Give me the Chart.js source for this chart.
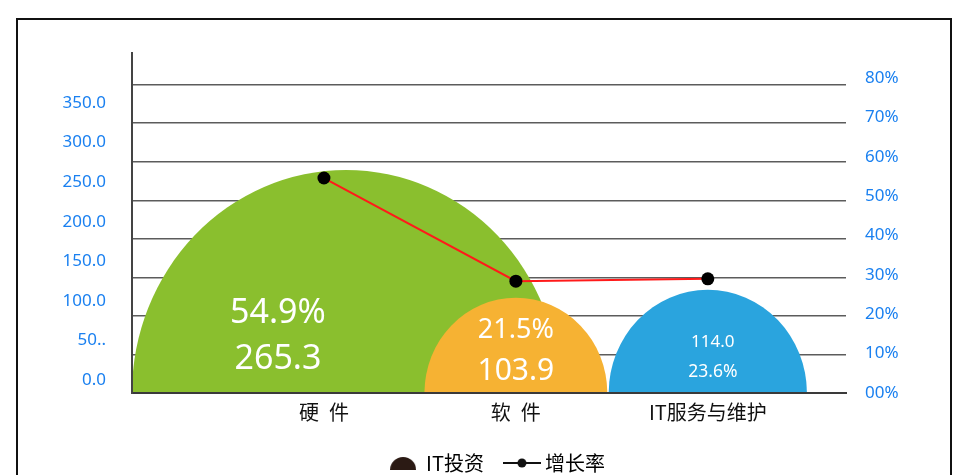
<!DOCTYPE html>
<html>
<head>
<meta charset="utf-8">
<script src="https://cdn.jsdelivr.net/npm/chart.js@4.4.1/dist/chart.umd.min.js"></script>
<style>
  html, body { margin: 0; padding: 0; background: #fff; overflow: hidden; }
  #frame { position: absolute; left: 16px; top: 18px; width: 936px; height: 540px; box-sizing: border-box; border: 2px solid #111; }
  #chart { position: absolute; left: 0; top: 0; }
</style>
</head>
<body>
<div id="frame"></div>
<canvas id="chart" width="971" height="483"></canvas>
<script>
// Data
const categories = ['硬\u2002件', '软\u2002件', 'IT服务与维护'];
const investment = [265.3, 103.9, 114.0];
const share = [54.9, 21.5, 23.6];
const growth = [54.6, 28.4, 29.0];
const leftTicks = [0, 50, 100, 150, 200, 250, 300, 350];
const leftTickLabels = ['0.0', '50..', '100.0', '150.0', '200.0', '250.0', '300.0', '350.0'];
const rightTicks = [0, 10, 20, 30, 40, 50, 60, 70, 80];
const rightTickLabels = ['00%', '10%', '20%', '30%', '40%', '50%', '60%', '70%', '80%'];

// Styles
const discColors = ['#8abf2e', '#f6b233', '#2aa4de'];
const tickBlue = '#1a80f0';
const numFont = '"Noto Sans", "Open Sans", sans-serif';
const cjkFont = '"Noto Sans CJK SC", "Noto Sans", sans-serif';

// text inside each half disc: [text, size, rise above baseline]
const innerLabels = [
  { dx: -46, lines: [[share[0] + '%', 34, 70], [investment[0].toFixed(1), 34, 24]] },
  { dx: 0, lines: [[share[1] + '%', 27, 55], [investment[1].toFixed(1), 30, 13]] },
  { dx: 5, lines: [[investment[2].toFixed(1), 17, 46], [share[2] + '%', 17.5, 16]] }
];

// Legend icons
function discIcon() {
  const c = document.createElement('canvas');
  c.width = 26; c.height = 14;
  const g = c.getContext('2d');
  g.fillStyle = '#2b1a14';
  g.beginPath();
  g.arc(13, 14, 13, Math.PI, 2 * Math.PI);
  g.fill();
  return c;
}
function lineIcon() {
  const c = document.createElement('canvas');
  c.width = 38; c.height = 10;
  const g = c.getContext('2d');
  g.strokeStyle = '#111';
  g.lineWidth = 2;
  g.beginPath(); g.moveTo(0, 5); g.lineTo(38, 5); g.stroke();
  g.fillStyle = '#111';
  g.beginPath(); g.arc(19, 5, 4.5, 0, 2 * Math.PI); g.fill();
  return c;
}

// Half discs drawn from the bar elements, kept inside the plot area
const halfDiscs = {
  id: 'halfDiscs',
  beforeDatasetsDraw(chart) {
    const { ctx, chartArea: a } = chart;
    const bars = chart.getDatasetMeta(0).data;
    ctx.save();
    ctx.beginPath();
    ctx.rect(a.left + 1, a.top, a.right - a.left - 1, a.bottom - a.top - 1);
    ctx.clip();
    bars.forEach((bar, i) => {
      const ry = a.bottom - bar.y;
      const rx = ry * 0.96;
      const cx = Math.max(bar.x, a.left + rx);
      ctx.beginPath();
      ctx.ellipse(cx, a.bottom, rx, ry, 0, Math.PI, 2 * Math.PI);
      ctx.closePath();
      ctx.fillStyle = discColors[i];
      ctx.fill();
    });
    ctx.fillStyle = '#fff';
    ctx.textAlign = 'center';
    ctx.textBaseline = 'alphabetic';
    bars.forEach((bar, i) => {
      const lab = innerLabels[i];
      lab.lines.forEach(([t, size, rise]) => {
        ctx.font = size + 'px ' + numFont;
        ctx.fillText(t, bar.x + lab.dx, a.bottom - rise);
      });
    });
    ctx.restore();
  }
};

new Chart(document.getElementById('chart'), {
  type: 'bar',
  data: {
    datasets: [{
      label: 'IT投资',
      data: investment.map((v, i) => ({ x: i, y: v })),
      backgroundColor: 'rgba(0,0,0,0)',
      borderWidth: 0,
      yAxisID: 'y'
    }, {
      type: 'line',
      label: '增长率',
      data: growth.map((v, i) => ({ x: i, y: v })),
      borderColor: '#ff1a1a',
      borderWidth: 2,
      tension: 0,
      pointRadius: 6.5,
      pointBackgroundColor: '#000',
      pointBorderWidth: 0,
      yAxisID: 'y1'
    }]
  },
  options: {
    responsive: false,
    animation: false,
    layout: { padding: { left: 24, top: 53, right: 0, bottom: 0 } },
    plugins: {
      tooltip: { enabled: false },
      legend: {
        position: 'bottom',
        labels: {
          usePointStyle: true,
          pointStyleWidth: 26,
          padding: 25,
          color: '#111',
          font: { family: cjkFont, size: 20 },
          generateLabels: () => [
            { text: 'IT投资', pointStyle: discIcon(), fillStyle: '#2b1a14', strokeStyle: '#2b1a14', lineWidth: 0, hidden: false, datasetIndex: 0 },
            { text: '增长率', pointStyle: lineIcon(), fillStyle: '#111', strokeStyle: '#111', lineWidth: 0, hidden: false, datasetIndex: 1 }
          ]
        }
      }
    },
    scales: {
      x: {
        type: 'linear',
        offset: false,
        min: -1,
        max: 2.72,
        grid: { display: false, drawTicks: false },
        border: { display: true, color: '#3a3a3a', width: 2 },
        afterBuildTicks: s => { s.ticks = categories.map((c, i) => ({ value: i })); },
        afterFit: s => { s.height = 35; },
        ticks: {
          autoSkip: false,
          maxRotation: 0,
          padding: 7,
          color: '#111',
          font: { family: cjkFont, size: 20 },
          callback: (v, i) => categories[i]
        }
      },
      y: {
        position: 'left',
        min: -16.43,
        max: 413.2,
        grid: { display: false, drawTicks: false },
        border: { display: true, color: '#444', width: 2 },
        afterBuildTicks: s => { s.ticks = leftTicks.map(v => ({ value: v })); },
        afterFit: s => { s.width = 108; },
        ticks: {
          autoSkip: false,
          padding: 26,
          color: tickBlue,
          font: { family: numFont, size: 17 },
          callback: (v, i) => leftTickLabels[i]
        }
      },
      y1: {
        position: 'right',
        min: 0,
        max: 86.35,
        grid: { display: false, drawTicks: false },
        border: { display: false },
        afterBuildTicks: s => { s.ticks = rightTicks.map(v => ({ value: v })); },
        afterFit: s => { s.width = 125; },
        ticks: {
          autoSkip: false,
          padding: 19,
          color: tickBlue,
          font: { family: numFont, size: 17 },
          callback: (v, i) => rightTickLabels[i]
        }
      },
      yg: {
        position: 'right',
        min: 0,
        max: 8.82,
        grid: { color: '#5c5c5c', lineWidth: 1.5, drawTicks: false },
        border: { display: false },
        afterBuildTicks: s => { s.ticks = rightTicks.map((v, i) => ({ value: i })); },
        afterFit: s => { s.width = 0; },
        ticks: { display: false }
      }
    }
  },
  plugins: [halfDiscs]
});
</script>
</body>
</html>
